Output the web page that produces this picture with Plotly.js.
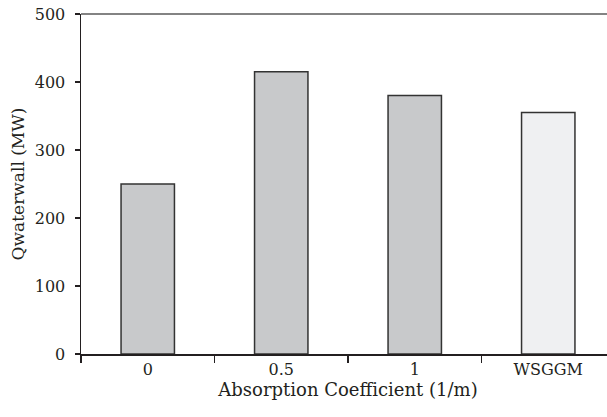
<!DOCTYPE html>
<html>
<head>
<meta charset="utf-8">
<script src="https://cdn.plot.ly/plotly-3.0.1.min.js"></script>
<style>
  html, body { margin: 0; padding: 0; overflow: hidden; background: #fff; }
  #chart { width: 615px; height: 417px; }
</style>
</head>
<body>
<div id="chart"></div>
<script>
// Wall heat transfer for each absorption-coefficient case
const categories = ['0', '0.5', '1', 'WSGGM'];
const qWaterwall = [250, 415, 380, 355];
const barColors = ['#c8c9cb', '#c8c9cb', '#c8c9cb', '#eff0f2'];
const yTickValues = [0, 100, 200, 300, 400, 500];

const ink = '#231f20';
const serif = 'DejaVu Serif';

const trace = {
  type: 'bar',
  x: categories,
  y: qWaterwall,
  width: 0.4,
  marker: {
    color: barColors,
    line: { color: '#333333', width: 1.5 }
  },
  hoverinfo: 'x+y'
};

const layout = {
  width: 615,
  height: 417,
  margin: { l: 81, r: 0, t: 14, b: 63 },
  paper_bgcolor: '#ffffff',
  plot_bgcolor: '#ffffff',
  showlegend: false,
  font: { family: serif, color: ink, size: 16 },
  xaxis: {
    type: 'category',
    range: [-0.5, 3.5],
    showline: true,
    linecolor: ink,
    linewidth: 1.5,
    ticks: 'outside',
    tickson: 'boundaries',
    ticklen: 7,
    tickwidth: 1.5,
    tickcolor: ink,
    showgrid: false,
    zeroline: false,
    tickfont: { family: serif, size: 16, color: ink },
    title: { text: 'Absorption Coefficient (1/m)', font: { family: serif, size: 18, color: ink }, standoff: 5 }
  },
  yaxis: {
    range: [0, 500],
    tickvals: yTickValues,
    ticktext: yTickValues.map(String),
    showline: true,
    linecolor: ink,
    linewidth: 1.5,
    ticks: 'outside',
    ticklen: 5,
    tickwidth: 1.5,
    tickcolor: ink,
    ticklabelstandoff: 6,
    showgrid: false,
    zeroline: false,
    tickfont: { family: serif, size: 16, color: ink },
    title: { text: 'Qwaterwall (MW)', font: { family: serif, size: 17, color: ink }, standoff: 6 }
  },
  shapes: [
    // upper frame edge
    { type: 'line', xref: 'paper', yref: 'paper', x0: 0, x1: 1, y0: 1, y1: 1,
      line: { color: '#5a5a5a', width: 1.5 } }
  ]
};

Plotly.newPlot('chart', [trace], layout, { displayModeBar: false, staticPlot: true });
</script>
</body>
</html>
